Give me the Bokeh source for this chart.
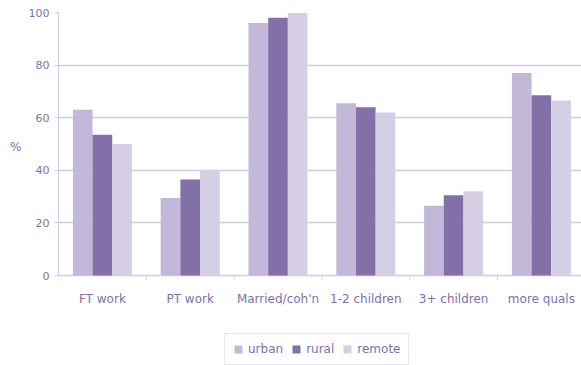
from bokeh.plotting import figure
from bokeh.models import (Range1d, FixedTicker, Legend, LegendItem,
                          ColumnDataSource, LinearAxis)
from bokeh.core.properties import value
from bokeh.embed import file_html
from bokeh.resources import INLINE

# Share of each group (%), by category and area type
categories = ["FT work", "PT work", "Married/coh'n", "1-2 children", "3+ children", "more quals"]
urban = [63, 29.5, 96, 65.5, 26.5, 77]
rural = [53.5, 36.5, 98, 64, 30.5, 68.5]
remote = [50, 40, 99.8, 62, 32, 66.5]
y_ticks = [0, 20, 40, 60, 80, 100]

series = [("urban", urban, "#c3b8d9"),
          ("rural", rural, "#8470a8"),
          ("remote", remote, "#d6cfe4")]

TEXT = "#7e70a8"
AXIS = "#d3cbe3"
FONT = "DejaVu Sans"

W, H = 581, 365
LEFT, TOP = 58, 12
PLOT_H = 263          # pixels between 0 and 100 on the value axis
BELOW = H - TOP - PLOT_H
PX = 100 / PLOT_H     # value units per pixel
# the frame runs to the bottom of the canvas; the space under zero holds labels and legend
y_start = -BELOW * PX
n = len(categories)
x_end = (W - LEFT) / 87.8

p = figure(width=W, height=H, output_backend="svg", toolbar_location=None,
           x_range=Range1d(0, x_end), y_range=Range1d(y_start, 100),
           min_border_left=LEFT, min_border_right=0, min_border_top=TOP,
           min_border_bottom=0, x_axis_location=None)
p.outline_line_color = None
p.background_fill_color = "white"
p.border_fill_color = "white"

bar_w = 0.224
offsets = [-bar_w, 0, bar_w]
items = []
for (name, vals, col), off in zip(series, offsets):
    xs = [i + 0.5 + off for i in range(n)]
    r = p.vbar(x=xs, top=vals, width=bar_w, bottom=0, fill_color=col, line_color=None)
    items.append(LegendItem(label=name, renderers=[r]))

# horizontal grid (the line at zero doubles as the category axis)
p.xgrid.grid_line_color = None
p.ygrid.grid_line_color = AXIS
p.ygrid.grid_line_width = 1.5
p.ygrid.ticker = FixedTicker(ticks=y_ticks)

# short tick marks between category groups, just under zero
edges = list(range(n + 1))
p.segment(x0=edges, y0=[0] * len(edges), x1=edges, y1=[-4 * PX] * len(edges),
          line_color=AXIS, line_width=1)

# category names under each group
lab_src = ColumnDataSource(dict(x=[i + 0.5 for i in range(n)], y=[0] * n, text=categories))
p.text(x="x", y="y", text="text", source=lab_src, y_offset=23,
       text_align="center", text_baseline="middle",
       text_font=value(FONT), text_font_size="12px", text_color=TEXT)

# value axis
p.yaxis.ticker = FixedTicker(ticks=y_ticks)
p.yaxis.bounds = (0, 100)
p.yaxis.axis_line_color = AXIS
p.yaxis.major_tick_line_color = AXIS
p.yaxis.major_tick_out = 4
p.yaxis.major_tick_in = 0
p.yaxis.minor_tick_line_color = None
p.yaxis.major_label_text_color = TEXT
p.yaxis.major_label_text_font = FONT
p.yaxis.major_label_text_font_size = "11px"
p.yaxis.major_label_standoff = 5

# unit label "%" set just left of the value axis, level with its middle
unit_at = 49
unit_axis = LinearAxis(ticker=FixedTicker(ticks=[unit_at]),
                       major_label_overrides={unit_at: "%"},
                       axis_line_color=None, major_tick_line_color=None,
                       minor_tick_line_color=None, major_tick_out=0, major_tick_in=0,
                       major_label_standoff=4,
                       major_label_text_color=TEXT, major_label_text_font=FONT,
                       major_label_text_font_size="12px")
p.add_layout(unit_axis, "left")

legend = Legend(items=items, orientation="horizontal", location=(166, 0),
                border_line_color=AXIS, border_line_width=1.5,
                background_fill_color="white", background_fill_alpha=1,
                label_text_font=FONT, label_text_font_size="12px",
                label_text_color=TEXT, glyph_width=10, glyph_height=10,
                label_standoff=5, spacing=8, padding=8, margin=0)
p.add_layout(legend)

open("out.html", "w").write(file_html(p, INLINE))
